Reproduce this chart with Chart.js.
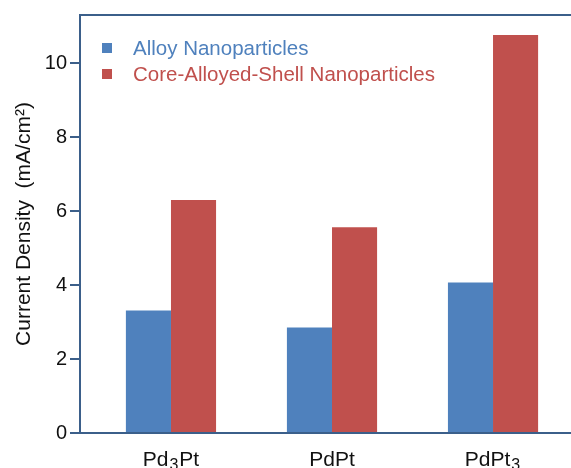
<!DOCTYPE html>
<html>
<head>
<meta charset="utf-8">
<script src="https://cdn.jsdelivr.net/npm/chart.js@4"></script>
<style>
  html, body { margin: 0; padding: 0; background: #fff; overflow: hidden; }
  #wrap { width: 600px; height: 468px; }
</style>
</head>
<body>
<div id="wrap"><canvas id="chart"></canvas></div>
<script>
// Dados
const categories = ['Pd\u2083Pt', 'PdPt', 'PdPt\u2083'];
const alloyValues = [3.31, 2.85, 4.07];
const coreShellValues = [6.30, 5.56, 10.76];
const yTicks = [0, 2, 4, 6, 8, 10];

const axisColor = '#3b5f8a';
const blue = '#4f81bd';
const red = '#c0504d';
const fontFamily = '"Liberation Sans", Arial, sans-serif';
const SUBS = '\u2080\u2081\u2082\u2083\u2084\u2085\u2086\u2087\u2088\u2089';

// Legenda desenhada dentro da área do gráfico
const insideLegend = {
    id: 'insideLegend',
    afterDraw(chart) {
        const ctx = chart.ctx;
        const area = chart.chartArea;
        ctx.save();
        ctx.font = '20.5px ' + fontFamily;
        ctx.textBaseline = 'middle';
        chart.data.datasets.forEach((ds, i) => {
            const y = area.top + 33 + i * 26;
            ctx.fillStyle = ds.backgroundColor;
            ctx.fillRect(area.left + 22, y - 5, 10, 10);
            ctx.fillText(ds.label, area.left + 53, y + 1);
        });
        ctx.restore();
    }
};

// Rótulos do eixo x com índices (subscritos) de tamanho legível
const subLabels = {
    id: 'subLabels',
    afterDraw(chart) {
        const ctx = chart.ctx;
        const xScale = chart.scales.x;
        const baseY = xScale.top + 33;
        const mainFont = '21px ' + fontFamily;
        const subFont = '16px ' + fontFamily;
        ctx.save();
        ctx.fillStyle = '#111';
        ctx.textBaseline = 'alphabetic';
        ctx.textAlign = 'left';
        categories.forEach((label, i) => {
            const parts = [...label].map(ch => {
                const k = SUBS.indexOf(ch);
                return k >= 0 ? { text: String(k), sub: true } : { text: ch, sub: false };
            });
            let total = 0;
            parts.forEach(p => {
                ctx.font = p.sub ? subFont : mainFont;
                p.w = ctx.measureText(p.text).width + (p.sub ? 2 : 0);
                total += p.w;
            });
            let x = xScale.getPixelForValue(i) - total / 2;
            parts.forEach(p => {
                ctx.font = p.sub ? subFont : mainFont;
                ctx.fillText(p.text, p.sub ? x + 1 : x, p.sub ? baseY + 4 : baseY);
                x += p.w;
            });
        });
        ctx.restore();
    }
};

const toPoints = values => values.map((v, i) => ({ x: i, y: v }));

new Chart(document.getElementById('chart'), {
    type: 'bar',
    data: {
        datasets: [
            {
                label: 'Alloy Nanoparticles',
                data: toPoints(alloyValues),
                backgroundColor: blue
            },
            {
                label: 'Core-Alloyed-Shell Nanoparticles',
                data: toPoints(coreShellValues),
                backgroundColor: red
            }
        ]
    },
    options: {
        responsive: true,
        maintainAspectRatio: false,
        animation: false,
        categoryPercentage: 0.56,
        barPercentage: 1,
        layout: { padding: { top: 15, left: 0, right: 16, bottom: 0 } },
        plugins: {
            legend: { display: false },
            tooltip: { enabled: false }
        },
        scales: {
            x: {
                type: 'linear',
                offset: false,
                min: -0.565,
                max: 2.565,
                afterFit: s => { s.height = 35; },
                afterBuildTicks: s => { s.ticks = categories.map((c, i) => ({ value: i })); },
                grid: { display: false, offset: false },
                border: { color: axisColor, width: 2 },
                ticks: { display: false }
            },
            x2: {
                type: 'linear',
                position: 'top',
                offset: false,
                min: -0.565,
                max: 2.565,
                afterFit: s => { s.height = 0; },
                grid: { display: false },
                border: { color: axisColor, width: 2 },
                ticks: { display: false }
            },
            y: {
                min: 0,
                max: 11.3,
                afterFit: s => { s.width = 80; },
                afterBuildTicks: s => { s.ticks = yTicks.map(v => ({ value: v })); },
                grid: {
                    drawOnChartArea: false,
                    drawTicks: true,
                    tickLength: 10,
                    color: axisColor,
                    lineWidth: 2
                },
                border: { color: axisColor, width: 2 },
                ticks: {
                    padding: 3,
                    color: '#111',
                    font: { size: 20, family: fontFamily }
                },
                title: {
                    display: true,
                    text: 'Current Density  (mA/cm\u00b2)',
                    color: '#111',
                    font: { size: 21, family: fontFamily },
                    padding: { top: 12, bottom: 0 }
                }
            }
        }
    },
    plugins: [insideLegend, subLabels]
});
</script>
</body>
</html>
